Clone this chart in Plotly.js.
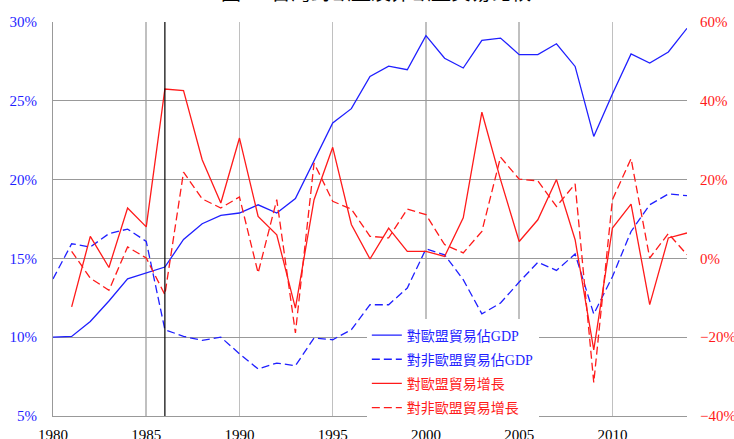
<!DOCTYPE html>
<html>
<head>
<meta charset="utf-8">
<script src="https://cdn.plot.ly/plotly-3.0.1.min.js"></script>
<style>html,body{margin:0;padding:0;background:#fff;}#chart{width:734px;height:439px;}</style>
</head>
<body>
<div id="chart"></div>
<script>
const years = [1980,1981,1982,1983,1984,1985,1986,1987,1988,1989,1990,1991,1992,1993,1994,1995,1996,1997,1998,1999,2000,2001,2002,2003,2004,2005,2006,2007,2008,2009,2010,2011,2012,2013,2014];
const growthYears = years.slice(1);
const euShareGDP = [10.0,10.05,11.0,12.3,13.7,14.07,14.45,16.2,17.2,17.73,17.88,18.4,17.88,18.8,21.15,23.6,24.5,26.55,27.2,26.97,29.13,27.7,27.08,28.83,28.98,27.93,27.93,28.62,27.18,22.74,25.43,27.97,27.4,28.1,29.6];
const nonEuShareGDP = [13.7,15.93,15.72,16.57,16.86,16.08,10.48,10.05,9.8,10.0,8.95,7.98,8.36,8.19,9.95,9.84,10.48,12.06,12.06,13.12,15.6,15.23,13.65,11.48,12.17,13.5,14.75,14.24,15.28,11.47,13.84,16.71,18.4,19.09,18.98];
const euGrowth = [-12.3,5.6,-2.3,12.8,8.0,43.0,42.6,25.05,14.06,30.55,10.66,6.0,-12.6,14.9,28.2,8.6,-0.15,7.7,1.8,1.8,0.5,10.3,37.1,20.0,4.3,9.8,20.0,4.75,-23.2,7.7,13.8,-11.75,5.2,6.45];
const nonEuGrowth = [1.8,-5.0,-8.1,2.9,0.1,-9.2,21.9,15.1,12.8,15.6,-3.7,14.9,-18.9,24.2,14.5,12.5,5.6,5.2,12.5,11.1,3.5,1.4,6.85,25.7,20.1,19.7,13.2,18.9,-31.5,14.9,25.3,0.1,6.3,0.95];
const seriesNames = ['對歐盟貿易佔GDP','對非歐盟貿易佔GDP','對歐盟貿易增長','對非歐盟貿易增長'];
const markerYear = 1986;
const titleText = '圖3　台灣對歐盟及非歐盟貿易比較';

const BLUE = '#1f1fff', RED = '#ff1a1a';
const FONT = 'Liberation Serif, Times New Roman, Noto Serif CJK TC, Noto Sans CJK TC, serif';
const CJK = 'Liberation Serif, Noto Sans CJK TC, serif';
const DASH = '8px,4px';

function lbl(t, c){ return '<span style="color:'+c+'">'+t+'</span>'; }

const traces = [
  {x: years, y: euShareGDP, name: lbl(seriesNames[0], BLUE), mode:'lines', line:{color:BLUE, width:1.3}, legendgroup:'a'},
  {x: years, y: nonEuShareGDP, name: lbl(seriesNames[1], BLUE), mode:'lines', line:{color:BLUE, width:1.3, dash:DASH}, legendgroup:'b'},
  {x: growthYears, y: euGrowth, name: lbl(seriesNames[2], RED), mode:'lines', yaxis:'y2', line:{color:RED, width:1.3}, legendgroup:'c'},
  {x: growthYears, y: nonEuGrowth, name: lbl(seriesNames[3], RED), mode:'lines', yaxis:'y2', line:{color:RED, width:1.3, dash:DASH}, legendgroup:'d'}
];

const layout = {
  width: 734, height: 439,
  margin: {l:53, r:47, t:22, b:23},
  paper_bgcolor:'#fff', plot_bgcolor:'#fff',
  font: {family: FONT, size: 15, color:'#000'},
  annotations: [{text: titleText, font:{family:CJK, size:20, color:'#000'}, xref:'paper', x:0.51, yref:'paper', y:1 + 16/394, yanchor:'bottom', xanchor:'center', showarrow:false}],
  showlegend: true,
  legend: {x:0.495, y:0.245, xanchor:'left', yanchor:'top', bgcolor:'#fff', borderwidth:0,
           font:{family:CJK, size:14}, traceorder:'grouped', tracegroupgap:3},
  xaxis: {range:[1980,2014], tick0:1980, dtick:5, showgrid:true, gridcolor:'#c0c0c0', gridwidth:1.5,
          showline:true, linecolor:'#999', linewidth:1, zeroline:false, ticks:'', ticklabelstandoff:5,
          tickfont:{family:FONT, size:15, color:'#000'}},
  yaxis: {range:[5,30], tick0:5, dtick:5, ticksuffix:'%', showgrid:true, gridcolor:'#999', gridwidth:1,
          showline:true, linecolor:'#999', linewidth:1, zeroline:false, ticks:'', ticklabelstandoff:12,
          tickfont:{family:FONT, size:15, color:BLUE}},
  yaxis2: {range:[-40,60], tick0:-40, dtick:20, ticksuffix:'%', overlaying:'y', side:'right', showgrid:false,
           showline:false, zeroline:false, ticks:'', ticklabelstandoff:12,
           tickfont:{family:FONT, size:15, color:RED}},
  shapes: [{type:'line', xref:'x', yref:'paper', x0:markerYear, x1:markerYear, y0:0, y1:1, line:{color:'#000', width:1.2}}]
};

Plotly.newPlot('chart', traces, layout, {staticPlot:true, displayModeBar:false});
</script>
</body>
</html>
